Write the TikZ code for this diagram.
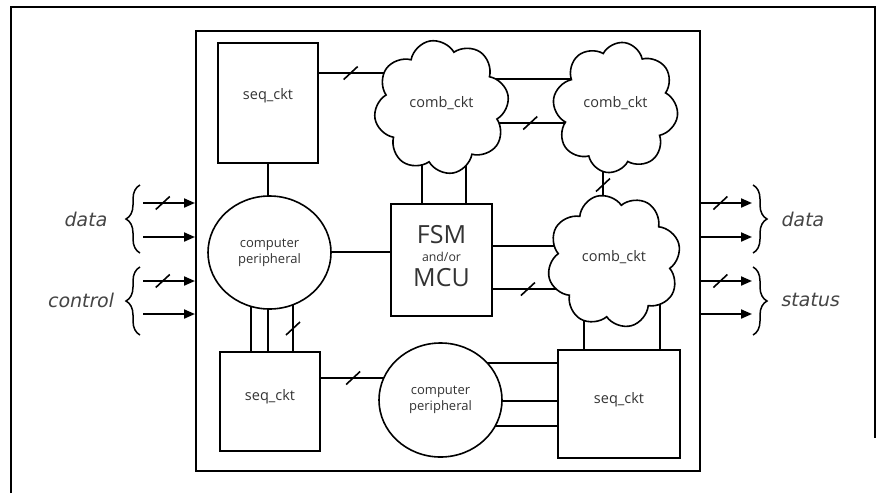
\documentclass[tikz,border=0pt]{standalone}
\usepackage{fontspec}
\setmainfont{Open Sans}
\newfontfamily\labfont{DejaVu Sans}[FakeSlant=0.2]
\usetikzlibrary{shapes.geometric,shapes.symbols,arrows.meta,decorations.pathreplacing}
\pgfdeclarelayer{background}
\pgfsetlayers{background,main}
\definecolor{txt}{HTML}{333333}
\definecolor{lab}{HTML}{454545}
\begin{document}
\begin{tikzpicture}[x=1pt,y=-1pt,
 box/.style={draw,line width=1.6pt,fill=white,rectangle,inner sep=0pt},
 cld/.style={draw,line width=1.6pt,fill=white,cloud,cloud puffs=8,cloud puff arc=140,aspect=1,inner sep=0pt},
 elp/.style={draw,line width=1.6pt,fill=white,ellipse,inner sep=0pt,font=\fontsize{13}{16}\selectfont,text=txt,align=center},
 boxtext/.style={font=\fontsize{14.5}{17}\selectfont,text=txt},
 wire/.style={line width=1.6pt},
 arr/.style={line width=2pt,-{Triangle[length=11pt,width=9pt]}},
 brc/.style={decorate,decoration={brace,amplitude=14pt},line width=1.5pt},
 lbl/.style={font=\labfont\fontsize{19}{22}\selectfont,text=lab},
 busslash/.pic={\draw[line width=1.6pt,arrows=-] (-7,6.5) -- (7,-6.5);}
]
\useasboundingbox (0,0) rectangle (885,493);
% outer frame
\draw[line width=2.5pt] (11,493) -- (11,7) -- (875,7) -- (875,438);
% system box
\node[draw,line width=2pt,minimum width=504pt,minimum height=440pt,inner sep=0pt] (sys) at (448,251) {};
% blocks
\node[box,minimum width=100pt,minimum height=120pt,label={[boxtext,yshift=7pt]center:seq\_ckt}] (seqA) at (268,103) {};
\node[cld,minimum width=135pt,minimum height=134pt,rotate=10,label={[boxtext,yshift=4pt]center:comb\_ckt}] (c1) at (441.5,107) {};
\node[cld,minimum width=125pt,minimum height=131pt,rotate=-8,label={[boxtext,yshift=4pt]center:comb\_ckt}] (c2) at (615.5,107.5) {};
\node[cld,minimum width=134pt,minimum height=134pt,rotate=15,label={[boxtext,yshift=4pt]center:comb\_ckt}] (c3) at (614,261) {};
\node[box,minimum width=101pt,minimum height=112pt,
  label={[font=\fontsize{25}{25}\selectfont,text=txt,yshift=25pt]center:FSM},
  label={[font=\fontsize{12.3}{14}\selectfont,text=txt,yshift=3pt]center:and/or},
  label={[font=\fontsize{25}{25}\selectfont,text=txt,yshift=-18pt]center:MCU}] (fsm) at (441.5,260) {};
\node[elp,minimum width=123pt,minimum height=113pt] (cp1) at (269.5,252.5) {computer\\peripheral};
\node[box,minimum width=100pt,minimum height=99pt,label={[boxtext,yshift=4.5pt]center:seq\_ckt}] (seqB) at (270,401.5) {};
\node[elp,minimum width=123pt,minimum height=114pt] (cp2) at (440.5,400) {computer\\peripheral};
\node[box,minimum width=122pt,minimum height=108pt,label={[boxtext,yshift=4pt]center:seq\_ckt}] (seqC) at (619,404) {};
% internal wires
\begin{pgfonlayer}{background}
\draw[wire] (seqA.east |- 0,73) -- pic[pos=0.26]{busslash} (c1.center |- 0,73);
\draw[wire] (c1.center |- 0,79) -- (c2.center |- 0,79);
\draw[wire] (c1.center |- 0,123) -- pic[pos=0.51]{busslash} (c2.center |- 0,123);
\draw[wire] (c2.center -| 603,0) -- pic[pos=0.505]{busslash} (c3.center -| 603,0);
\draw[wire] (c1.center -| 422,0) -- (fsm.north -| 422,0);
\draw[wire] (c1.center -| 466,0) -- (fsm.north -| 466,0);
\draw[wire] (fsm.east |- 0,246) -- (c3.center |- 0,246);
\draw[wire] (fsm.east |- 0,289) -- pic[pos=0.29]{busslash} (c3.center |- 0,289);
\draw[wire] (seqA.south) -- (seqA.south |- cp1.center);
\draw[wire] (cp1.center |- 0,252) -- (fsm.center |- 0,252);
\draw[wire] (cp1.center -| 251,0) -- (seqB.north -| 251,0);
\draw[wire] (cp1.center -| 268,0) -- (seqB.north -| 268,0);
\draw[wire] (cp1.center -| 293,0) -- pic[pos=0.77]{busslash} (seqB.north -| 293,0);
\draw[wire] (seqB.east |- 0,378) -- pic[pos=0.27]{busslash} (cp2.center |- 0,378);
\draw[wire] (cp2.center |- 0,363) -- (seqC.west |- 0,363);
\draw[wire] (cp2.center |- 0,401) -- (seqC.west |- 0,401);
\draw[wire] (cp2.center |- 0,426) -- (seqC.west |- 0,426);
\draw[wire] (c3.center -| 584,0) -- (seqC.north -| 584,0);
\draw[wire] (c3.center -| 660,0) -- (seqC.north -| 660,0);
\end{pgfonlayer}
% inputs
\coordinate (i1) at (143,203);
\coordinate (i2) at (143,237);
\coordinate (i3) at (143,281);
\coordinate (i4) at (143,314);
\draw[arr] (i1) -- pic[pos=0.38]{busslash} (i1 -| sys.west);
\draw[arr] (i2) -- (i2 -| sys.west);
\draw[arr] (i3) -- pic[pos=0.38]{busslash} (i3 -| sys.west);
\draw[arr] (i4) -- (i4 -| sys.west);
% outputs
\coordinate (o1) at (752,203);
\coordinate (o2) at (752,237);
\coordinate (o3) at (752,281);
\coordinate (o4) at (752,314);
\draw[arr] (o1 -| sys.east) -- pic[pos=0.38]{busslash} (o1);
\draw[arr] (o2 -| sys.east) -- (o2);
\draw[arr] (o3 -| sys.east) -- pic[pos=0.38]{busslash} (o3);
\draw[arr] (o4 -| sys.east) -- (o4);
% braces
\draw[brc] (140,253) -- (140,185);
\draw[brc] (140,335) -- (140,267);
\draw[brc] (753,185) -- (753,253);
\draw[brc] (753,267) -- (753,335);
% labels
\node[lbl] (ldata) at (85,219) {data};
\node[lbl] (lctrl) at (80,300) {control};
\node[lbl,anchor=west] (rdata) at (777,219) {data};
\node[lbl,anchor=west] (rstat) at (777,300) {status};
\end{tikzpicture}
\end{document}
